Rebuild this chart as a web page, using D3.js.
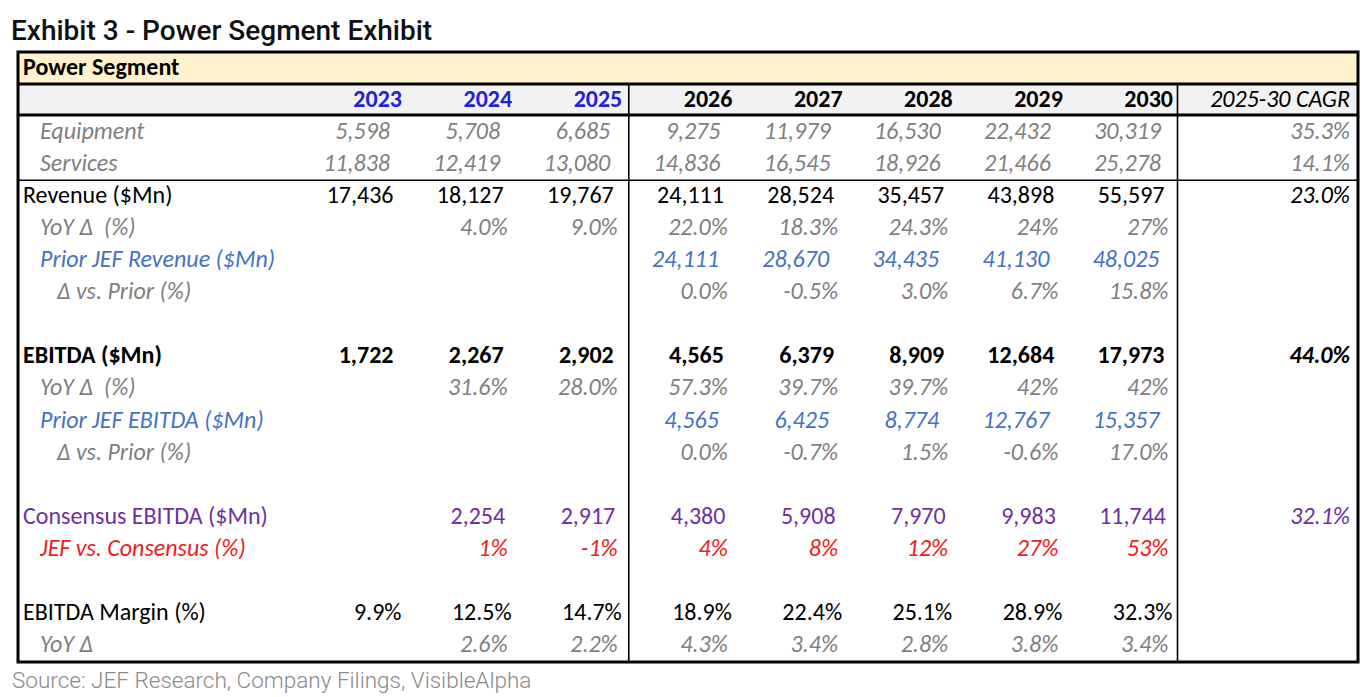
<!DOCTYPE html>
<html>
<head>
<meta charset="utf-8">
<script src="https://cdn.jsdelivr.net/npm/d3@7"></script>
<style>
  html, body { margin: 0; padding: 0; background: #fff; }
  svg text { white-space: pre; }
</style>
</head>
<body>
<div id="chart"></div>
<script>
// ---------------- DATA ----------------
const title = "Exhibit 3 - Power Segment Exhibit";
const source = "Source: JEF Research, Company Filings, VisibleAlpha";
const segmentTitle = "Power Segment";
const years = ["2023", "2024", "2025", "2026", "2027", "2028", "2029", "2030"];
const actualYears = ["2023", "2024", "2025"];
const cagrLabel = "2025-30 CAGR";

const equipment       = [5598, 5708, 6685, 9275, 11979, 16530, 22432, 30319];
const services        = [11838, 12419, 13080, 14836, 16545, 18926, 21466, 25278];
const revenue         = [17436, 18127, 19767, 24111, 28524, 35457, 43898, 55597];
const revenueYoY      = [null, "4.0%", "9.0%", "22.0%", "18.3%", "24.3%", "24%", "27%"];
const priorRevenue    = [null, null, null, 24111, 28670, 34435, 41130, 48025];
const revenueVsPrior  = [null, null, null, "0.0%", "-0.5%", "3.0%", "6.7%", "15.8%"];
const ebitda          = [1722, 2267, 2902, 4565, 6379, 8909, 12684, 17973];
const ebitdaYoY       = [null, "31.6%", "28.0%", "57.3%", "39.7%", "39.7%", "42%", "42%"];
const priorEbitda     = [null, null, null, 4565, 6425, 8774, 12767, 15357];
const ebitdaVsPrior   = [null, null, null, "0.0%", "-0.7%", "1.5%", "-0.6%", "17.0%"];
const consensusEbitda = [null, 2254, 2917, 4380, 5908, 7970, 9983, 11744];
const jefVsConsensus  = [null, "1%", "-1%", "4%", "8%", "12%", "27%", "53%"];
const ebitdaMargin    = ["9.9%", "12.5%", "14.7%", "18.9%", "22.4%", "25.1%", "28.9%", "32.3%"];
const marginYoY       = [null, "2.6%", "2.2%", "4.3%", "3.4%", "2.8%", "3.8%", "3.4%"];
const cagrValues      = ["35.3%", "14.1%", "23.0%", null, null, null, null, "44.0%", null, null, null, null, "32.1%", null, null, null, null];

const rowLabels = [
  "Equipment", "Services", "Revenue ($Mn)", "YoY Δ  (%)", "Prior JEF Revenue ($Mn)", "Δ vs. Prior (%)", "",
  "EBITDA ($Mn)", "YoY Δ  (%)", "Prior JEF EBITDA ($Mn)", "Δ vs. Prior (%)", "",
  "Consensus EBITDA ($Mn)", "JEF vs. Consensus (%)", "",
  "EBITDA Margin (%)", "YoY Δ"
];
const rowValues = [
  equipment, services, revenue, revenueYoY, priorRevenue, revenueVsPrior, null,
  ebitda, ebitdaYoY, priorEbitda, ebitdaVsPrior, null,
  consensusEbitda, jefVsConsensus, null,
  ebitdaMargin, marginYoY
];

// ---------------- STYLES ----------------
const GRAY = "#7f7f7f", BLUE = "#4472c4", PURPLE = "#7030a0", RED = "#ee1c1c", BLACK = "#000";
const rowStyle = [
  {indent: 40, color: GRAY, italic: true, pad: 12},
  {indent: 40, color: GRAY, italic: true, pad: 12},
  {indent: 23, color: BLACK, italic: false, pad: 8.5},
  {indent: 40, color: GRAY, italic: true, pad: 4.5},
  {indent: 40, color: BLUE, italic: true, pad: 13.5},
  {indent: 57, color: GRAY, italic: true, pad: 4.5},
  null,
  {indent: 23, color: BLACK, italic: false, bold: true, pad: 8.5},
  {indent: 40, color: GRAY, italic: true, pad: 4.5},
  {indent: 40, color: BLUE, italic: true, pad: 13.5},
  {indent: 57, color: GRAY, italic: true, pad: 4.5},
  null,
  {indent: 23, color: PURPLE, italic: false, pad: 7},
  {indent: 40, color: RED, italic: true, pad: 4.5},
  null,
  {indent: 23, color: BLACK, italic: false, pad: 0.5},
  {indent: 40, color: GRAY, italic: true, pad: 4.5}
];
const cagrStyle = {
  0: {color: GRAY, italic: true}, 1: {color: GRAY, italic: true},
  2: {color: BLACK, italic: true}, 7: {color: BLACK, italic: true, bold: true},
  12: {color: PURPLE, italic: true}
};

(function () {
const W = 1363, H = 697;
const TABLE_FONT = "'Carlito', 'Calibri', 'Open Sans', sans-serif";
const FS = 24;

const svg = d3.select("#chart").append("svg")
  .attr("width", W).attr("height", H)
  .style("display", "block");

svg.append("rect").attr("width", W).attr("height", H).attr("fill", "#fff");

svg.append("text")
  .attr("x", 11).attr("y", 40)
  .attr("font-family", "Roboto, sans-serif")
  .attr("font-weight", 500)
  .attr("font-size", 28)
  .attr("fill", "#111")
  .text(title);

const tLeft = 18, tRight = 1358, tTop = 52;
const headBottom = 84, yearBottom = 115;
const rowsTop = 116, rowsBottom = 662;

const x = d3.scalePoint().domain(years).range([402, 1173]);
const cagrX = 1350;
const y = d3.scaleBand().domain(d3.range(rowLabels.length)).range([rowsTop, rowsBottom]);
const baseline = i => y(i) + 22.5;

svg.append("rect").attr("x", tLeft).attr("y", tTop).attr("width", tRight - tLeft).attr("height", headBottom - tTop).attr("fill", "#fff2cc");
svg.append("rect").attr("x", tLeft).attr("y", headBottom).attr("width", tRight - tLeft).attr("height", yearBottom - headBottom).attr("fill", "#f2f2f2");

const sepA = x("2025") + 6.5;
const sepB = x("2030") + 4.5;
[sepA, sepB].forEach(sx => {
  svg.append("line").attr("x1", sx).attr("x2", sx).attr("y1", headBottom).attr("y2", rowsBottom)
    .attr("stroke", "#000").attr("stroke-width", 1.6);
});
svg.append("line").attr("x1", tLeft).attr("x2", tRight).attr("y1", y(2)).attr("y2", y(2))
  .attr("stroke", "#000").attr("stroke-width", 1.6);
svg.append("line").attr("x1", tLeft).attr("x2", tRight).attr("y1", headBottom).attr("y2", headBottom)
  .attr("stroke", "#000").attr("stroke-width", 2.8);
svg.append("line").attr("x1", tLeft).attr("x2", tRight).attr("y1", yearBottom).attr("y2", yearBottom)
  .attr("stroke", "#000").attr("stroke-width", 2.8);

svg.append("rect").attr("x", tLeft).attr("y", tTop).attr("width", tRight - tLeft).attr("height", rowsBottom - tTop)
  .attr("fill", "none").attr("stroke", "#000").attr("stroke-width", 3);

const g = svg.append("g").attr("font-family", TABLE_FONT).attr("font-size", FS);

g.append("text").attr("x", 23).attr("y", 75).attr("font-weight", 700).attr("fill", "#000").text(segmentTitle);

g.selectAll("text.year").data(years).enter().append("text")
  .attr("class", "year")
  .attr("x", d => x(d)).attr("y", 107)
  .attr("text-anchor", "end").attr("font-weight", 700)
  .attr("fill", d => actualYears.includes(d) ? "#2222d6" : "#000")
  .text(d => d);
g.append("text").attr("x", cagrX).attr("y", 107).attr("text-anchor", "end")
  .attr("font-style", "italic").attr("fill", "#000").text(cagrLabel);

const fmt = d3.format(",");
const show = v => (typeof v === "number" ? fmt(v) : v);

rowLabels.forEach((label, i) => {
  const st = rowStyle[i];
  if (!st) return;
  const by = baseline(i);
  g.append("text").attr("x", st.indent).attr("y", by)
    .attr("fill", st.color)
    .attr("font-style", st.italic ? "italic" : "normal")
    .attr("font-weight", st.bold ? 700 : 400)
    .text(label);
  const vals = rowValues[i];
  g.selectAll(null).data(years.map((yr, k) => ({yr, v: vals[k]})).filter(d => d.v != null))
    .enter().append("text")
    .attr("x", d => x(d.yr) - st.pad).attr("y", by)
    .attr("text-anchor", "end")
    .attr("fill", st.color)
    .attr("font-style", st.italic ? "italic" : "normal")
    .attr("font-weight", st.bold ? 700 : 400)
    .text(d => show(d.v));
  const cv = cagrValues[i];
  if (cv != null) {
    const cs = cagrStyle[i];
    g.append("text").attr("x", cagrX).attr("y", by).attr("text-anchor", "end")
      .attr("fill", cs.color)
      .attr("font-style", cs.italic ? "italic" : "normal")
      .attr("font-weight", cs.bold ? 700 : 400)
      .text(cv);
  }
});

svg.append("text")
  .attr("x", 12).attr("y", 688)
  .attr("font-family", "Roboto, sans-serif")
  .attr("font-weight", 300)
  .attr("font-size", 22.5)
  .attr("fill", "#8a8a8a")
  .text(source);
})();
</script>
</body>
</html>
